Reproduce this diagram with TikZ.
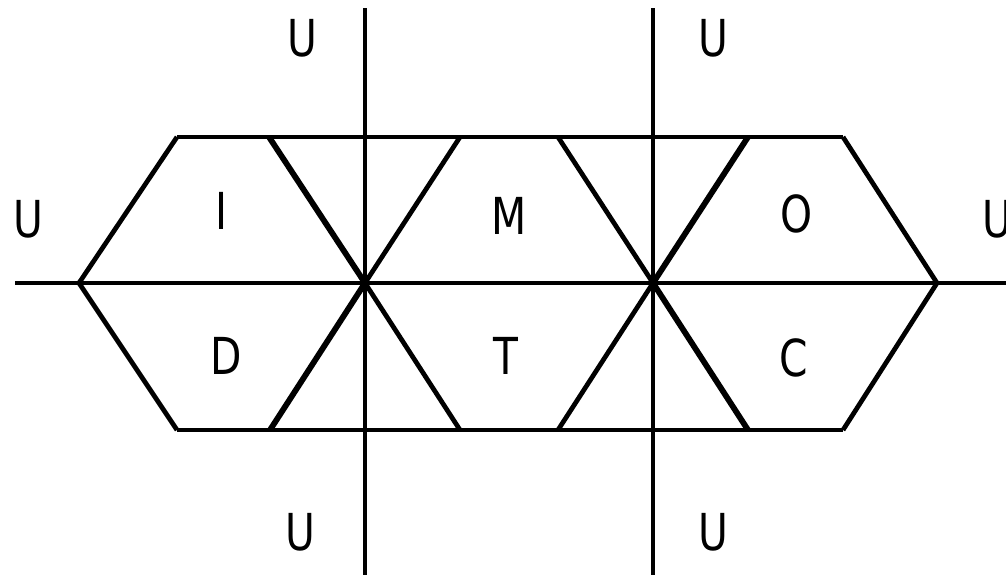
\documentclass[tikz,border=0pt]{standalone}
\usepackage{fontspec}
\newfontfamily\lblfont{DejaVu Sans}[FakeStretch=0.8]
\begin{document}
\begin{tikzpicture}[x=0.02cm, y=-0.02cm,
    axis/.style={line width=2pt},
    edge/.style={line width=2.7pt},
    bold edge/.style={line width=3.3pt},
    lbl/.style={font=\lblfont\fontsize{29}{30}\selectfont, inner sep=0pt}]
    \useasboundingbox (0,0) rectangle (1006,575);

    % Axes
    \coordinate (hl) at (15,283);
    \coordinate (hr) at (1006,283);
    \coordinate (v1t) at (365,8);
    \coordinate (v1b) at (365,575);
    \coordinate (v2t) at (653,8);
    \coordinate (v2b) at (653,575);
    \draw[axis] (hl) -- (hr);
    \draw[axis] (v1t) -- (v1b);
    \draw[axis] (v2t) -- (v2b);

    % Band of triangles
    \coordinate (t1) at (177,137);
    \coordinate (t2) at (269,137);
    \coordinate (t3) at (460,137);
    \coordinate (t4) at (558,137);
    \coordinate (t5) at (748,137);
    \coordinate (t6) at (843,137);
    \coordinate (b1) at (177,430);
    \coordinate (b2) at (270,430);
    \coordinate (b3) at (460,430);
    \coordinate (b4) at (558,430);
    \coordinate (b5) at (748,430);
    \coordinate (b6) at (843,430);
    \coordinate (l) at (79,283);
    \coordinate (r) at (937,283);
    \coordinate (x1) at (365,283);
    \coordinate (x2) at (653,283);

    \draw[edge] (t1) -- (t6);
    \draw[edge] (b1) -- (b6);
    \draw[edge] (t1) -- (l) -- (b1);
    \draw[edge] (t6) -- (r) -- (b6);
    \draw[edge] (x1) -- (t3);
    \draw[edge] (x1) -- (b3);
    \draw[edge] (x2) -- (t4);
    \draw[edge] (x2) -- (b4);
    \draw[bold edge] (x1) -- (t2);
    \draw[bold edge] (x1) -- (b2);
    \draw[bold edge] (x2) -- (t5);
    \draw[bold edge] (x2) -- (b5);

    % Letters
    \node[lbl] (i) at (222,211) {I};
    \node[lbl] (m) at (509,216) {M};
    \node[lbl] (o) at (797,214) {O};
    \node[lbl] (d) at (226,356) {D};
    \node[lbl] (t) at (506,356) {T};
    \node[lbl] (c) at (794,358) {C};

    \node[lbl] (u1) at (302,38) {U};
    \node[lbl] (u2) at (713,38) {U};
    \node[lbl] (u3) at (28,219) {U};
    \node[lbl] (u4) at (997,219) {U};
    \node[lbl] (u5) at (300,532) {U};
    \node[lbl] (u6) at (713,532) {U};
\end{tikzpicture}
\end{document}
